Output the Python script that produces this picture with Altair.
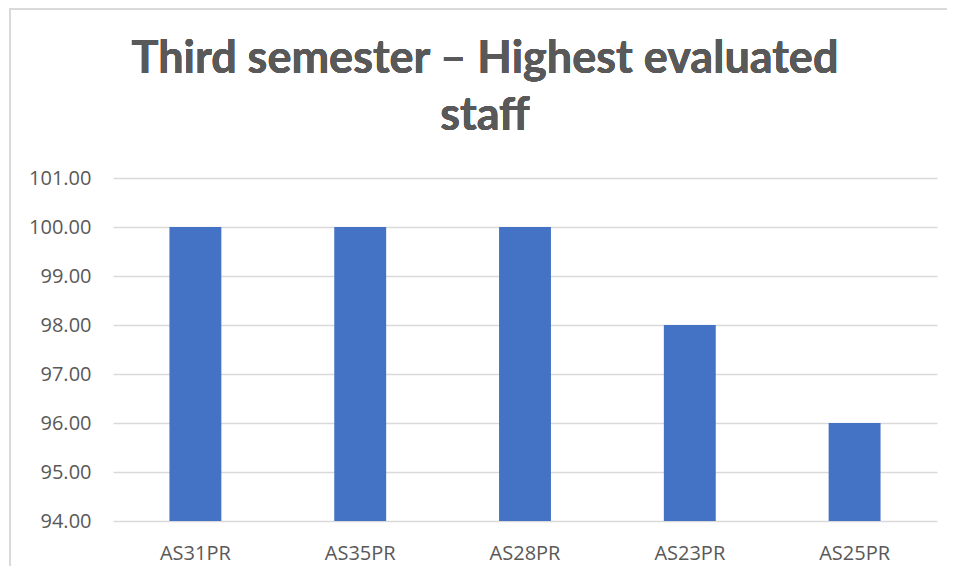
import altair as alt
import pandas as pd

staff = ["AS31PR", "AS35PR", "AS28PR", "AS23PR", "AS25PR"]
scores = [100.0, 100.0, 100.0, 98.0, 96.0]
y_ticks = [94, 95, 96, 97, 98, 99, 100, 101]
title_lines = ["Third semester – Highest evaluated", "staff"]

df = pd.DataFrame({"staff": staff, "score": scores})

bars = alt.Chart(df).mark_bar(color="#4472C4", clip=True).encode(
    x=alt.X("staff:N", sort=staff, title=None,
            scale=alt.Scale(paddingInner=0.685, paddingOuter=0.3425),
            axis=alt.Axis(labelAngle=0, labelFontSize=20, labelColor="#595959",
                          labelFont="Open Sans", labelPadding=22, ticks=False,
                          domain=False, grid=False)),
    y=alt.Y("score:Q", title=None,
            scale=alt.Scale(domain=[94, 101], nice=False, zero=False),
            axis=alt.Axis(values=y_ticks, format=".2f", labelFontSize=20,
                          labelColor="#595959", labelFont="Open Sans",
                          labelPadding=22, ticks=False, domain=False,
                          gridColor="#D9D9D9", gridWidth=1.5)),
)

border = alt.Chart(df).mark_rect(fill=None, stroke="#D9D9D9", strokeWidth=2,
                                 clip=False).encode(
    x=alt.value(-103), x2=alt.value(900), y=alt.value(-169), y2=alt.value(450)
)

title = alt.Chart(df).mark_text(
    text=title_lines, font="Lato", fontSize=45, fontWeight="bold",
    color="#595959", align="center", baseline="alphabetic", lineHeight=57,
    clip=False,
).encode(x=alt.value(372), y=alt.value(-105))

chart = alt.layer(border, bars, title).properties(
    width=824,
    height=343,
    autosize=alt.AutoSizeParams(type="none"),
    padding={"left": 105, "top": 170, "right": 10, "bottom": 45},
).configure_view(stroke=None)

chart.save("out.html", embed_options={"renderer": "svg", "actions": False})
